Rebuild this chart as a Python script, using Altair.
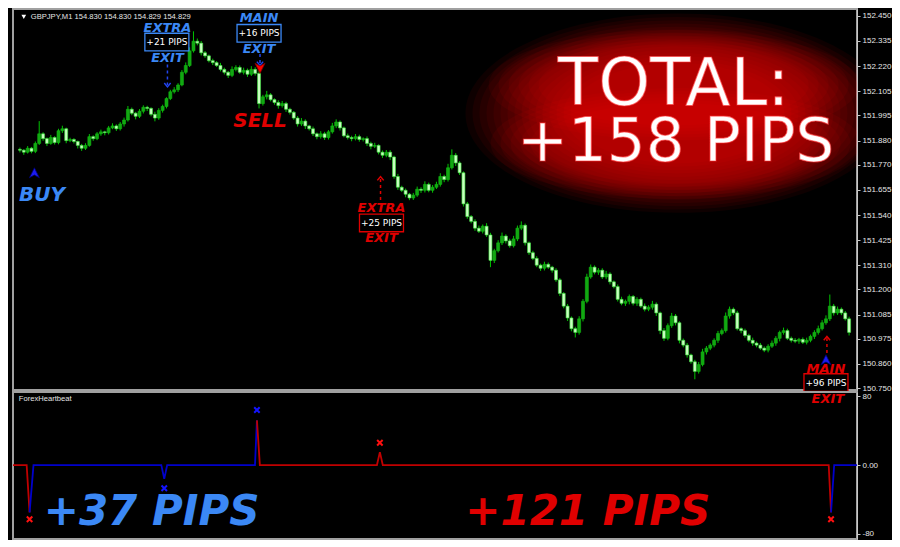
import altair as alt
import pandas as pd

# ---------------- data ----------------
header_text = "GBPJPY,M1  154.830 154.830 154.829 154.829"

# M1 closes, left to right (one candle per bar)
close = [
    151.836, 151.827, 151.845, 151.831, 151.867, 151.911, 151.889, 151.867, 151.894, 151.871,
    151.925, 151.934, 151.880, 151.885, 151.876, 151.858, 151.845, 151.858, 151.898, 151.889,
    151.911, 151.920, 151.916, 151.938, 151.947, 151.934, 151.956, 151.974, 152.023, 152.005,
    151.991, 152.014, 152.032, 152.027, 152.000, 151.983, 152.018, 152.036, 152.072, 152.103,
    152.112, 152.134, 152.192, 152.223, 152.290, 152.334, 152.325, 152.281, 152.267, 152.245,
    152.236, 152.223, 152.205, 152.192, 152.178, 152.205, 152.214, 152.192, 152.201, 152.183,
    152.205, 152.187, 152.049, 152.080, 152.089, 152.067, 152.054, 152.040, 152.049, 152.023,
    152.009, 151.983, 151.956, 151.969, 151.947, 151.934, 151.911, 151.898, 151.911, 151.894,
    151.920, 151.947, 151.965, 151.938, 151.902, 151.894, 151.889, 151.898, 151.885, 151.889,
    151.867, 151.854, 151.858, 151.827, 151.813, 151.827, 151.805, 151.716, 151.667, 151.653,
    151.635, 151.618, 151.631, 151.658, 151.653, 151.680, 151.653, 151.667, 151.680, 151.716,
    151.702, 151.756, 151.813, 151.778, 151.733, 151.591, 151.533, 151.511, 151.480, 151.466,
    151.489, 151.449, 151.333, 151.377, 151.413, 151.444, 151.422, 151.400, 151.431, 151.480,
    151.493, 151.413, 151.368, 151.342, 151.311, 151.297, 151.315, 151.302, 151.288, 151.244,
    151.182, 151.124, 151.070, 151.021, 151.004, 151.066, 151.146, 151.257, 151.302, 151.279,
    151.288, 151.257, 151.271, 151.235, 151.213, 151.155, 151.137, 151.146, 151.168, 151.137,
    151.155, 151.124, 151.110, 151.119, 151.133, 151.093, 151.012, 150.977, 151.035, 151.079,
    151.048, 150.968, 150.946, 150.901, 150.870, 150.826, 150.857, 150.915, 150.932, 150.946,
    150.968, 150.999, 151.012, 151.079, 151.110, 151.093, 151.021, 151.012, 150.990, 150.968,
    150.955, 150.946, 150.932, 150.923, 150.941, 150.955, 150.977, 151.004, 151.012, 150.977,
    150.968, 150.964, 150.972, 150.959, 150.968, 150.986, 151.004, 151.021, 151.048, 151.066,
    151.124, 151.093, 151.110, 151.093, 151.066, 151.004,
]
first_open = 151.840

# upper / lower wick length beyond the body, in points (0.001)
wick_up_pts = [
    8, 5, 10, 6, 9, 58, 7, 5, 12, 6,
    9, 14, 5, 8, 6, 4, 7, 10, 12, 6,
    8, 10, 5, 9, 12, 7, 9, 11, 15, 8,
    6, 10, 9, 7, 5, 12, 10, 8, 6, 9,
    12, 8, 10, 14, 16, 45, 12, 10, 8, 6,
    9, 7, 12, 8, 6, 14, 10, 9, 12, 8,
    15, 10, 12, 9, 18, 8, 6, 10, 12, 8,
    7, 6, 9, 14, 8, 5, 10, 6, 12, 9,
    8, 14, 12, 7, 6, 10, 8, 12, 9, 6,
    10, 8, 12, 5, 8, 10, 9, 6, 12, 7,
    8, 6, 10, 12, 9, 14, 8, 10, 12, 15,
    8, 18, 27, 10, 8, 6, 9, 7, 10, 12,
    8, 14, 10, 9, 12, 16, 8, 10, 14, 12,
    18, 8, 6, 9, 10, 7, 12, 8, 6, 9,
    8, 6, 10, 7, 9, 12, 10, 15, 12, 8,
    10, 9, 14, 8, 6, 10, 12, 8, 9, 7,
    10, 8, 12, 9, 15, 8, 6, 12, 10, 14,
    9, 7, 8, 10, 6, 9, 12, 14, 10, 8,
    9, 12, 10, 16, 12, 8, 10, 6, 9, 8,
    12, 7, 10, 8, 9, 12, 10, 8, 14, 9,
    8, 10, 7, 9, 12, 8, 10, 14, 12, 16,
    53, 10, 12, 8, 9, 10,
]
wick_dn_pts = [
    10, 12, 6, 9, 8, 7, 10, 12, 6, 9,
    8, 10, 12, 7, 9, 14, 12, 8, 6, 10,
    7, 9, 12, 8, 6, 10, 8, 12, 7, 9,
    14, 8, 10, 12, 9, 15, 8, 10, 9, 7,
    8, 10, 6, 9, 7, 8, 10, 12, 9, 8,
    11, 7, 9, 10, 12, 8, 9, 7, 10, 12,
    8, 10, 22, 9, 12, 8, 10, 14, 9, 12,
    10, 8, 12, 9, 14, 8, 10, 12, 9, 11,
    9, 8, 10, 12, 7, 9, 12, 8, 10, 9,
    12, 14, 8, 10, 12, 9, 14, 10, 12, 8,
    14, 10, 9, 8, 12, 10, 9, 11, 8, 10,
    12, 9, 8, 14, 10, 12, 10, 9, 12, 8,
    10, 9, 31, 12, 8, 10, 12, 9, 8, 10,
    9, 12, 10, 8, 9, 12, 10, 8, 11, 9,
    12, 10, 14, 12, 23, 10, 12, 9, 8, 10,
    12, 9, 10, 12, 8, 10, 9, 12, 14, 10,
    12, 8, 10, 9, 11, 14, 16, 12, 9, 10,
    12, 14, 10, 12, 9, 36, 10, 8, 12, 9,
    10, 12, 8, 9, 12, 10, 8, 12, 10, 9,
    12, 10, 8, 9, 10, 8, 12, 14, 10, 8,
    10, 9, 12, 8, 10, 9, 12, 10, 8, 9,
    10, 12, 9, 10, 8, 14,
]

price_ticks = [152.450, 152.335, 152.220, 152.105, 151.995, 151.880, 151.770, 151.655,
               151.540, 151.425, 151.310, 151.200, 151.085, 150.975, 150.860, 150.750]
ind_ticks = [80, 0, -80]

# trade annotations (x = bar index, y = price)
lab_text = ["EXTRA", "EXIT", "MAIN", "EXIT", "EXTRA", "EXIT", "MAIN", "EXIT"]
lab_x = [38.25, 38.25, 62.0, 62.0, 93.75, 93.75, 209.0, 209.5]
lab_y = [152.396, 152.259, 152.439, 152.299, 151.573, 151.435, 150.839, 150.701]
lab_side = ["buy", "buy", "buy", "buy", "sell", "sell", "sell", "sell"]

box_text = ["+21 PIPS", "+16 PIPS", "+25 PIPS", "+96 PIPS"]
box_x = [38.1, 62.0, 93.75, 209.0]
box_y = [152.330, 152.370, 151.504, 150.775]
box_side = ["buy", "buy", "sell", "sell"]

arrow_x = [38.25, 62.25, 93.5, 209.25]
arrow_from = [152.227, 152.276, 151.609, 150.910]
arrow_to = [152.134, 152.232, 151.707, 150.977]
arrow_head = ["down", "down", "up", "up"]
arrow_side = ["buy", "buy", "sell", "sell"]

signal_x = [3.75, 62.25, 209.0]
signal_y = [151.733, 152.210, 150.879]
signal_dir = ["up", "down", "up"]

word_text = ["BUY", "SELL"]
word_x = [5.75, 62.25]
word_y = [151.633, 151.969]
word_side = ["buy", "sell"]

total_lines = ["TOTAL:", "+158 PIPS"]
total_x = [169.5, 170.0]
total_y = [152.134, 151.867]
glow_center = (170.5, 152.005)

header_pos = (1.0, 2.8, 152.445)  # triangle x, text x, y

# ForexHeartbeat indicator: line vertices (x = bar index, value)
ind_seg = ["r1", "r1", "r1",
           "b1", "b1", "b1", "b1", "b1", "b1", "b1",
           "r2", "r2", "r2", "r2", "r2", "r2", "r2",
           "b2", "b2", "b2"]
ind_x = [-0.5, 3.0, 3.75,
         3.75, 4.75, 37.5, 38.25, 39.0, 61.5, 62.0,
         62.0, 62.75, 92.75, 93.5, 94.25, 208.5, 209.1,
         209.1, 209.9, 215.75]
ind_v = [0, 0, -55,
         -55, 0, 0, -16, 0, 0, 52,
         52, 0, 0, 15, 0, 0, -55,
         -55, 0, 0]

cross_x = [3.75, 38.25, 62.0, 93.5, 209.1]
cross_v = [-63, -27, 64, 26, -63]
cross_side = ["sell", "buy", "buy", "sell", "sell"]

ind_name = ("ForexHeartbeat", 1.0, 77)
pips_text = ["+37 PIPS", "+121 PIPS"]
pips_x = [35.0, 146.75]
pips_v = [-55, -55]
pips_side = ["buy", "sell"]

# ---------------- styles ----------------
TXT = {"buy": "#3b88f5", "sell": "#e00000"}
DASH = {"buy": "#2244ee", "sell": "#e00000"}
LINE = {"r1": "#c00000", "r2": "#c00000", "b1": "#0000cc", "b2": "#0000cc"}
CROSS = {"buy": "#1414ff", "sell": "#ff1010"}
SIG = {"up": "#1c1cf0", "down": "#ff0000"}

W, H1, H2 = 844, 381, 147
x_scale = alt.Scale(domain=[-0.5, 215.75], nice=False, zero=False)
p_scale = alt.Scale(domain=[150.741, 152.481], nice=False, zero=False)
i_scale = alt.Scale(domain=[-86, 85], nice=False, zero=False)

p_axis = alt.Axis(orient="right", values=price_ticks, format=".3f", title=None,
                  grid=False, tickSize=3, labelPadding=2)
i_axis = alt.Axis(orient="right", values=ind_ticks, title=None, grid=False, tickSize=3,
                  labelPadding=2,
                  labelExpr="datum.value == 0 ? '0.00' : '' + datum.value")


def X(f):
    return alt.X(f, type="quantitative", scale=x_scale, axis=None)


def P(f):
    return alt.Y(f, type="quantitative", scale=p_scale, axis=p_axis)


def I(f):
    return alt.Y(f, type="quantitative", scale=i_scale, axis=i_axis)


# ---------------- candles table ----------------
opens = [first_open] + close[:-1]
rows = []
for i, c in enumerate(close):
    o = opens[i]
    bull = c >= o
    rows.append(dict(i=i, open=o, close=c,
                     high=max(o, c) + wick_up_pts[i] / 1000.0,
                     low=min(o, c) - wick_dn_pts[i] / 1000.0,
                     fill="#12a812" if bull else "#c8ffc0",
                     edge="#12b812" if bull else "#3ce63c"))
candles = pd.DataFrame(rows)

labels = pd.DataFrame({"x": lab_x, "y": lab_y, "t": lab_text,
                       "c": [TXT[s] for s in lab_side]})
boxes = pd.DataFrame({"x": box_x, "y": box_y, "t": box_text,
                      "c": [TXT[s] for s in box_side]})
arrows = pd.DataFrame({"x": arrow_x, "y": arrow_from, "y2": arrow_to, "head": arrow_head,
                       "c": [DASH[s] for s in arrow_side]})
signals = pd.DataFrame({"x": signal_x, "y": signal_y, "d": signal_dir,
                        "c": [SIG[d] for d in signal_dir]})
words = pd.DataFrame({"x": word_x, "y": word_y, "t": word_text,
                      "c": [TXT[s] for s in word_side]})
glow = pd.DataFrame({"x": [glow_center[0]], "y": [glow_center[1]]})
totals = pd.DataFrame({"x": total_x, "y": total_y, "t": total_lines})
header = pd.DataFrame({"x": [header_pos[0]], "xt": [header_pos[1]], "y": [header_pos[2]],
                       "t": [header_text]})

layers = []
# soft red glow behind the total: one broad halo plus a tighter halo on each text line
ellipse = "M-1,0A1,0.47,0,1,0,1,0A1,0.47,0,1,0,-1,0Z"
for k in range(16):
    hw = 212 - k * 7
    layers.append(alt.Chart(glow).mark_point(shape=ellipse, filled=True, color="#ff0000",
                                             opacity=0.055, size=(2 * hw) ** 2, clip=True)
                  .encode(x=X("x"), y=P("y")))
line_ellipse = "M-1,0A1,0.3,0,1,0,1,0A1,0.3,0,1,0,-1,0Z"
for k in range(6):
    hw = 185 - k * 10
    layers.append(alt.Chart(totals).mark_point(shape=line_ellipse, filled=True,
                                               color="#ff0000", opacity=0.06,
                                               size=(2 * hw) ** 2, clip=True)
                  .encode(x=X("x"), y=P("y")))

layers.append(alt.Chart(candles).mark_rule(color="#00c400", strokeWidth=1)
              .encode(x=X("i"), y=P("low"), y2="high"))
layers.append(alt.Chart(candles).mark_bar(size=3, strokeWidth=0.6)
              .encode(x=X("i"), y=P("open"), y2="close",
                      fill=alt.Fill("fill:N", scale=None),
                      stroke=alt.Stroke("edge:N", scale=None)))

# dashed exit arrows
layers.append(alt.Chart(arrows).mark_rule(strokeDash=[3, 3], strokeWidth=1.5)
              .encode(x=X("x"), y=P("y"), y2="y2", color=alt.Color("c:N", scale=None)))
layers.append(alt.Chart(arrows[arrows["head"] == "down"])
              .mark_point(shape="M-1,-0.6L0,0.6L1,-0.6", filled=False, size=40,
                          strokeWidth=1.5, opacity=1)
              .encode(x=X("x"), y=P("y2"), color=alt.Color("c:N", scale=None)))
layers.append(alt.Chart(arrows[arrows["head"] == "up"])
              .mark_point(shape="M-1,0.6L0,-0.6L1,0.6", filled=False, size=40,
                          strokeWidth=1.5, opacity=1)
              .encode(x=X("x"), y=P("y2"), color=alt.Color("c:N", scale=None)))

# entry / exit arrows
layers.append(alt.Chart(signals[signals["d"] == "up"])
              .mark_point(shape="M0,-1L1,1L0,0.45L-1,1Z", filled=True, size=100, opacity=1,
                          stroke="#000070", strokeWidth=0.8)
              .encode(x=X("x"), y=P("y"), fill=alt.Fill("c:N", scale=None)))
layers.append(alt.Chart(signals[signals["d"] == "down"])
              .mark_point(shape="M0,1L1,-1L0,-0.45L-1,-1Z", filled=True, size=100, opacity=1,
                          stroke="#800000", strokeWidth=0.8)
              .encode(x=X("x"), y=P("y"), fill=alt.Fill("c:N", scale=None)))

# boxes with pips
layers.append(alt.Chart(boxes)
              .mark_point(shape="M-1,-0.4L1,-0.4L1,0.4L-1,0.4Z", filled=True, fill="#000000",
                          size=44 ** 2, strokeWidth=1.3, opacity=1)
              .encode(x=X("x"), y=P("y"), stroke=alt.Stroke("c:N", scale=None)))
layers.append(alt.Chart(boxes).mark_text(font="DejaVu Sans", fontSize=9, color="#ffffff")
              .encode(x=X("x"), y=P("y"), text="t:N"))

layers.append(alt.Chart(labels).mark_text(font="DejaVu Sans", fontSize=13, fontStyle="italic",
                                          fontWeight="bold")
              .encode(x=X("x"), y=P("y"), text="t:N", color=alt.Color("c:N", scale=None)))
layers.append(alt.Chart(words).mark_text(font="DejaVu Sans", fontSize=20, fontStyle="italic",
                                         fontWeight="bold")
              .encode(x=X("x"), y=P("y"), text="t:N", color=alt.Color("c:N", scale=None)))

# white total text, thin red edge
for t, tx, ty, fs in zip(total_lines, total_x, total_y, [66, 61]):
    d = pd.DataFrame({"x": [tx], "y": [ty], "t": [t]})
    layers.append(alt.Chart(d).mark_text(font="DejaVu Sans", fontSize=fs, color="#ffffff",
                                         stroke="#ff3030", strokeWidth=1.2, strokeOpacity=0.6)
                  .encode(x=X("x"), y=P("y"), text="t:N"))

# header
layers.append(alt.Chart(header).mark_point(shape="triangle-down", filled=True, size=22,
                                           color="#ffffff", opacity=1)
              .encode(x=X("x"), y=P("y")))
layers.append(alt.Chart(header).mark_text(font="Liberation Sans", fontSize=7.6,
                                          color="#e6e6e6", align="left")
              .encode(x=X("xt"), y=P("y"), text="t:N"))

top = alt.layer(*layers).properties(width=W, height=H1)

# ---------------- indicator panel ----------------
ind = pd.DataFrame({"x": ind_x, "v": ind_v, "seg": ind_seg,
                    "c": [LINE[s] for s in ind_seg]})
crosses = pd.DataFrame({"x": cross_x, "v": cross_v, "c": [CROSS[s] for s in cross_side]})
pips = pd.DataFrame({"x": pips_x, "v": pips_v, "t": pips_text,
                     "c": [TXT[s] for s in pips_side]})
name = pd.DataFrame({"x": [ind_name[1]], "v": [ind_name[2]], "t": [ind_name[0]]})

bottom = alt.layer(
    alt.Chart(ind).mark_line(strokeWidth=1.8)
    .encode(x=X("x"), y=I("v"), detail="seg:N", color=alt.Color("c:N", scale=None)),
    alt.Chart(crosses).mark_point(shape="M-1,-1L1,1M-1,1L1,-1", filled=False, size=30,
                                  strokeWidth=2, opacity=1)
    .encode(x=X("x"), y=I("v"), color=alt.Color("c:N", scale=None)),
    alt.Chart(pips).mark_text(font="DejaVu Sans", fontSize=42, fontStyle="italic",
                              fontWeight="bold")
    .encode(x=X("x"), y=I("v"), text="t:N", color=alt.Color("c:N", scale=None)),
    alt.Chart(name).mark_text(font="Liberation Sans", fontSize=7.6, color="#e6e6e6",
                              align="left")
    .encode(x=X("x"), y=I("v"), text="t:N"),
).properties(width=W, height=H2)

chart = (
    alt.vconcat(top, bottom, spacing=2, bounds="flush", padding=0, background="#000000")
    .configure_view(stroke="#a0a0a0", strokeWidth=2)
    .configure_axis(domainColor="#c8c8c8", tickColor="#c8c8c8", labelColor="#e6e6e6",
                    labelFont="Liberation Sans", labelFontSize=8, domainWidth=1)
)

chart.save("out.html", embed_options={"renderer": "svg", "actions": False})
